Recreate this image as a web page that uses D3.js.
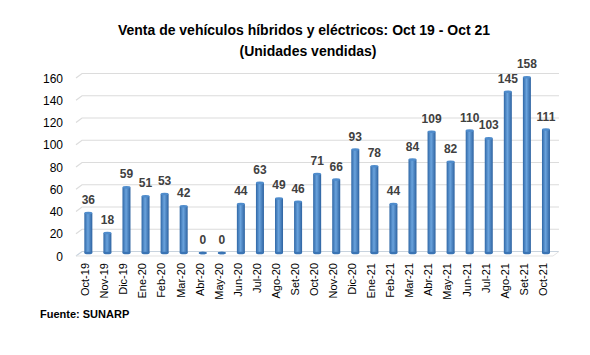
<!DOCTYPE html>
<html><head><meta charset="utf-8">
<script src="https://cdn.jsdelivr.net/npm/d3@7"></script>
<style>body{margin:0;background:#fff}svg{display:block}text{font-family:"Liberation Sans",Arial,sans-serif}</style>
</head><body><svg id="c" width="590" height="355"></svg>
<script>
const categories = ["Oct-19","Nov-19","Dic-19","Ene-20","Feb-20","Mar-20","Abr-20","May-20","Jun-20","Jul-20","Ago-20","Set-20","Oct-20","Nov-20","Dic-20","Ene-21","Feb-21","Mar-21","Abr-21","May-21","Jun-21","Jul-21","Ago-21","Set-21","Oct-21"];
const values = [36,18,59,51,53,42,0,0,44,63,49,46,71,66,93,78,44,84,109,82,110,103,145,158,111];
const yTicks = [0,20,40,60,80,100,120,140,160];
const titleLines = ["Venta de vehículos híbridos y eléctricos: Oct 19 - Oct 21","(Unidades vendidas)"];
const source = "Fuente: SUNARP";

const svg = d3.select("#c");
const x = d3.scaleBand().domain(categories).range([78.8,555.5]).paddingInner(0);
const y = d3.scaleLinear().domain([0,160]).range([253,75]);

const defs = svg.append("defs");
const g = defs.append("linearGradient").attr("id","bg").attr("x1","0").attr("x2","1").attr("y1","0").attr("y2","0");
g.append("stop").attr("offset","0").attr("stop-color","#2f67a6");
g.append("stop").attr("offset","0.45").attr("stop-color","#6aa3dd");
g.append("stop").attr("offset","1").attr("stop-color","#2d62a0");

// gridlines with perspective slant
const grid = svg.append("g");
yTicks.forEach(v=>{
  const yy = y(v)-1.5;
  grid.append("path").attr("d",`M76,${yy+4.5}L82,${yy}L559,${yy}`).attr("fill","none")
    .attr("stroke", v===0?"#c8d3de":"#dcdcdc").attr("stroke-width",1.2);
});
// floor front line
svg.append("line").attr("x1",76).attr("x2",553).attr("y1",y(0)+3).attr("y2",y(0)+3).attr("stroke","#e3e3e3");
svg.append("path").attr("d",`M553,${y(0)+3}L559,${y(0)-1.5}`).attr("stroke","#e3e3e3").attr("fill","none");

// y labels
svg.append("g").selectAll("text").data(yTicks).join("text")
  .attr("x",63).attr("y",d=>y(d)+7.5).attr("text-anchor","end")
  .attr("font-size",12).attr("fill","#000").text(d=>d);

// bars
const bw = 8;
const bars = svg.append("g");
categories.forEach((c,i)=>{
  const cx = x(c)+x.bandwidth()/2;
  const top = y(values[i]);
  bars.append("rect").attr("x",cx-bw/2).attr("y",top).attr("width",bw).attr("height",Math.max(0,y(0)-top))
    .attr("fill","url(#bg)");
  bars.append("ellipse").attr("cx",cx).attr("cy",top).attr("rx",bw/2).attr("ry",1.3).attr("fill","#4f8ccc");
  bars.append("ellipse").attr("cx",cx).attr("cy",y(0)).attr("rx",bw/2).attr("ry",1.3).attr("fill","#3a74b4");
});

// value labels
svg.append("g").selectAll("text").data(values).join("text")
  .attr("x",(d,i)=>x(categories[i])+x.bandwidth()/2).attr("y",d=>y(d)-9)
  .attr("text-anchor","middle").attr("font-size",12).attr("font-weight","bold").attr("fill","#404040").text(d=>d);

// x labels
svg.append("g").selectAll("text").data(categories).join("text")
  .attr("transform",d=>`translate(${x(d)+x.bandwidth()/2-3},263) rotate(-90)`)
  .attr("dy","0.35em").attr("text-anchor","end").attr("font-size",11).attr("fill","#000").text(d=>d);

// title
const t1 = svg.append("text").attr("x",304).attr("y",35).attr("text-anchor","middle").attr("font-size",14).attr("font-weight","bold").attr("fill","#000").text(titleLines[0]);
const t2 = svg.append("text").attr("x",308).attr("y",56).attr("text-anchor","middle").attr("font-size",14).attr("font-weight","bold").attr("fill","#000").text(titleLines[1]);
function fit(t,w){const L=t.node().getComputedTextLength(); if(L>w) t.attr("textLength",w).attr("lengthAdjust","spacingAndGlyphs");}
fit(t1,372); fit(t2,140);

const s = svg.append("text").attr("x",40).attr("y",318).attr("font-size",11).attr("font-weight","bold").attr("fill","#000").text(source);
fit(s,92);
</script></body></html>
